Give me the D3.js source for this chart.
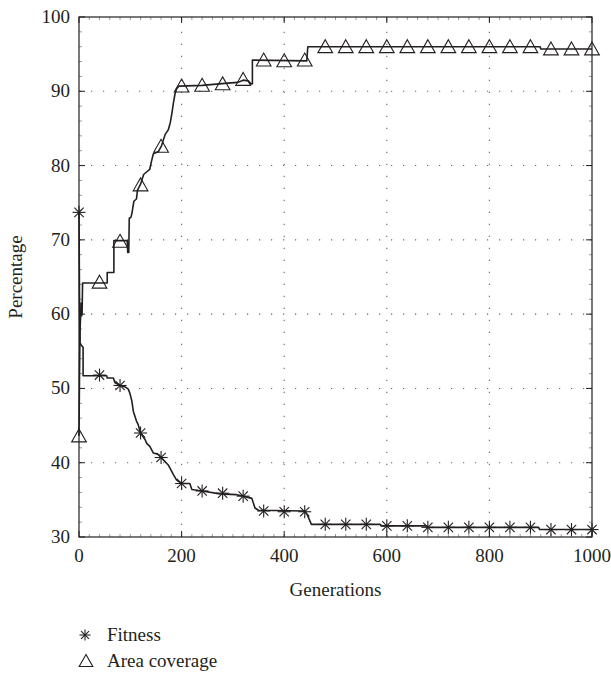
<!DOCTYPE html>
<html lang="en">
<head>
    <meta charset="UTF-8">
    <title>Fitness and Area coverage</title>
    <style>
        body, html {
            margin: 0;
            padding: 0;
            background: #fff;
        }
        .grid line {
            stroke: #666;
            stroke-width: 1.1;
            stroke-dasharray: 1.2, 10.8;
        }
    </style>
    <script src="https://d3js.org/d3.v7.min.js"></script>
</head>
<body>
    <div id="chart"></div>
    <script>
        // values
        const markerGenerations = d3.range(0, 1001, 40);
        const fitnessMarkers = [73.7, 51.8, 50.4, 44.0, 40.7, 37.2, 36.2, 35.9, 35.5, 33.5, 33.4, 33.4,
            31.7, 31.7, 31.7, 31.5, 31.5, 31.3, 31.3, 31.3, 31.3, 31.3, 31.3, 31.0, 31.0, 31.0];
        const areaMarkers = [43.6, 64.3, 69.8, 77.4, 82.6, 90.7, 90.8, 91.0, 91.6, 94.2, 94.1, 94.2,
            96.0, 96.0, 96.0, 96.0, 96.0, 96.0, 96.0, 96.0, 96.0, 96.0, 96.0, 95.7, 95.7, 95.7];

        const fitnessLine = [[0,73.7],[1,62],[2,56],[6,55.7],[8,55.5],[8,51.7],[54,51.7],[55,51.4],[67,51.4],
            [70,50.8],[80,50.4],[90,50.2],[96,49.9],[99,49.4],[103,48.3],[106,46.9],[112,45.6],[115,45.2],
            [120,44.0],[129,43.1],[132,42.6],[138,42.2],[145,41.3],[155,41.1],[160,40.7],[167,40.2],[174,39.7],
            [184,38.4],[190,37.7],[200,37.2],[216,37.2],[220,36.4],[240,36.2],[275,35.8],[307,35.7],[320,35.5],
            [337,35.2],[343,33.9],[350,33.6],[440,33.5],[445,33.0],[453,31.7],[587,31.7],[590,31.5],[678,31.5],
            [680,31.3],[896,31.3],[898,31.0],[1000,31.0]];
        const areaLine = [[0,43.6],[1,52],[2,58],[3,59.5],[4,61.5],[5,59.8],[6,60],[7,64.2],[55,64.2],[55,65.6],
            [68,65.6],[68,69.9],[94,69.9],[95,68.3],[97,68.3],[98,72.9],[101,73],[103,73.5],[107,75.2],[112,75.5],
            [114,76.7],[120,77.5],[126,78.8],[131,79.1],[138,79.5],[141,80.5],[145,81.6],[155,81.9],[161,82.7],
            [168,84.2],[174,84.8],[178,85.8],[181,87],[184,88.4],[187,89.6],[190,90.3],[195,90.7],[240,90.8],
            [290,91.1],[310,91.2],[320,91.5],[330,91.4],[335,91.0],[338,91.0],[338,94.2],[444,94.1],[446,96.0],
            [899,96.0],[900,95.7],[1000,95.7]];

        const xTicks = [0, 200, 400, 600, 800, 1000];
        const yTicks = [30, 40, 50, 60, 70, 80, 90, 100];
        const legendLabels = ["Fitness", "Area coverage"];

        const width = 611, height = 675;
        const margin = {left: 79, right: 19, top: 17, bottom: 138};
        const innerW = width - margin.left - margin.right;
        const innerH = height - margin.top - margin.bottom;
        const serif = "'Liberation Serif', 'Times New Roman', Times, serif";

        const x = d3.scaleLinear().domain([0, 1000]).range([0, innerW]);
        const y = d3.scaleLinear().domain([30, 100]).range([innerH, 0]);

        const svg = d3.select("#chart").append("svg")
            .attr("width", width)
            .attr("height", height)
            .attr("font-family", serif);

        const g = svg.append("g")
            .attr("transform", `translate(${margin.left},${margin.top})`);

        // dotted grid
        const grid = g.append("g").attr("class", "grid");
        grid.selectAll(".vg").data(xTicks.slice(1, -1)).enter().append("line")
            .attr("x1", d => x(d)).attr("x2", d => x(d))
            .attr("y1", innerH).attr("y2", 0);
        grid.selectAll(".hg").data(yTicks.slice(1, -1)).enter().append("line")
            .attr("y1", d => y(d)).attr("y2", d => y(d))
            .attr("x1", 0).attr("x2", innerW);

        // minor ticks (inward, all sides)
        const ticks = g.append("g").attr("stroke", "#555").attr("stroke-width", 0.6);
        d3.range(20, 1000, 20).forEach(v => {
            ticks.append("line").attr("x1", x(v)).attr("x2", x(v)).attr("y1", innerH).attr("y2", innerH - 3);
            ticks.append("line").attr("x1", x(v)).attr("x2", x(v)).attr("y1", 0).attr("y2", 3);
        });
        d3.range(32, 100, 2).forEach(v => {
            ticks.append("line").attr("y1", y(v)).attr("y2", y(v)).attr("x1", 0).attr("x2", 3);
            ticks.append("line").attr("y1", y(v)).attr("y2", y(v)).attr("x1", innerW).attr("x2", innerW - 3);
        });

        // major ticks
        const major = g.append("g").attr("stroke", "#231f20").attr("stroke-width", 1);
        xTicks.forEach(v => {
            major.append("line").attr("x1", x(v)).attr("x2", x(v)).attr("y1", innerH).attr("y2", innerH - 6);
            major.append("line").attr("x1", x(v)).attr("x2", x(v)).attr("y1", 0).attr("y2", 6);
        });
        yTicks.forEach(v => {
            major.append("line").attr("y1", y(v)).attr("y2", y(v)).attr("x1", 0).attr("x2", 6);
            major.append("line").attr("y1", y(v)).attr("y2", y(v)).attr("x1", innerW).attr("x2", innerW - 6);
        });

        // box
        g.append("rect")
            .attr("width", innerW).attr("height", innerH)
            .attr("fill", "none").attr("stroke", "#231f20").attr("stroke-width", 1.2);

        // tick labels
        g.selectAll(".xl").data(xTicks).enter().append("text")
            .attr("x", d => x(d)).attr("y", innerH + 25)
            .attr("text-anchor", "middle").attr("font-size", 19).attr("fill", "#231f20")
            .text(d => d);
        g.selectAll(".yl").data(yTicks).enter().append("text")
            .attr("x", -9).attr("y", d => y(d) + 6)
            .attr("text-anchor", "end").attr("font-size", 19).attr("fill", "#231f20")
            .text(d => d);

        // axis titles
        g.append("text")
            .attr("x", innerW / 2).attr("y", innerH + 59)
            .attr("text-anchor", "middle").attr("font-size", 19).attr("fill", "#231f20")
            .text("Generations");
        g.append("text")
            .attr("transform", `translate(${-57},${innerH / 2}) rotate(-90)`)
            .attr("text-anchor", "middle").attr("font-size", 19).attr("fill", "#231f20")
            .text("Percentage");

        // lines
        const line = d3.line().x(d => x(d[0])).y(d => y(d[1]));
        [fitnessLine, areaLine].forEach(pts => {
            g.append("path")
                .attr("d", line(pts))
                .attr("fill", "none")
                .attr("stroke", "#231f20")
                .attr("stroke-width", 1.6)
                .attr("stroke-linejoin", "round");
        });

        // marker shapes
        function star(sel, r) {
            const p = sel.append("g").attr("stroke", "#231f20").attr("stroke-width", 1.1).attr("fill", "none");
            p.append("line").attr("x1", -r).attr("x2", r).attr("y1", 0).attr("y2", 0);
            p.append("line").attr("x1", 0).attr("x2", 0).attr("y1", -r).attr("y2", r);
            const k = r * 0.72;
            p.append("line").attr("x1", -k).attr("x2", k).attr("y1", -k).attr("y2", k);
            p.append("line").attr("x1", -k).attr("x2", k).attr("y1", k).attr("y2", -k);
            return p;
        }
        function tri(sel, r) {
            return sel.append("path")
                .attr("d", `M0,${-r}L${r * 1.05},${r * 0.85}L${-r * 1.05},${r * 0.85}Z`)
                .attr("fill", "none").attr("stroke", "#231f20").attr("stroke-width", 1.1);
        }

        markerGenerations.forEach((gen, i) => {
            const s = g.append("g").attr("transform", `translate(${x(gen)},${y(fitnessMarkers[i])})`);
            star(s, 6.5);
            const t = g.append("g").attr("transform", `translate(${x(gen)},${y(areaMarkers[i])})`);
            tri(t, 7);
        });

        // legend
        const legend = svg.append("g").attr("transform", "translate(85, 635)");
        legendLabels.forEach((label, i) => {
            const row = legend.append("g").attr("transform", `translate(0, ${i * 26})`);
            if (i === 0) star(row, 5.5); else tri(row.append("g").attr("transform", "translate(1,0)"), 6.5);
            row.append("text")
                .attr("x", 22).attr("y", 6)
                .attr("font-size", 19).attr("fill", "#231f20")
                .text(label);
        });
    </script>
</body>
</html>
